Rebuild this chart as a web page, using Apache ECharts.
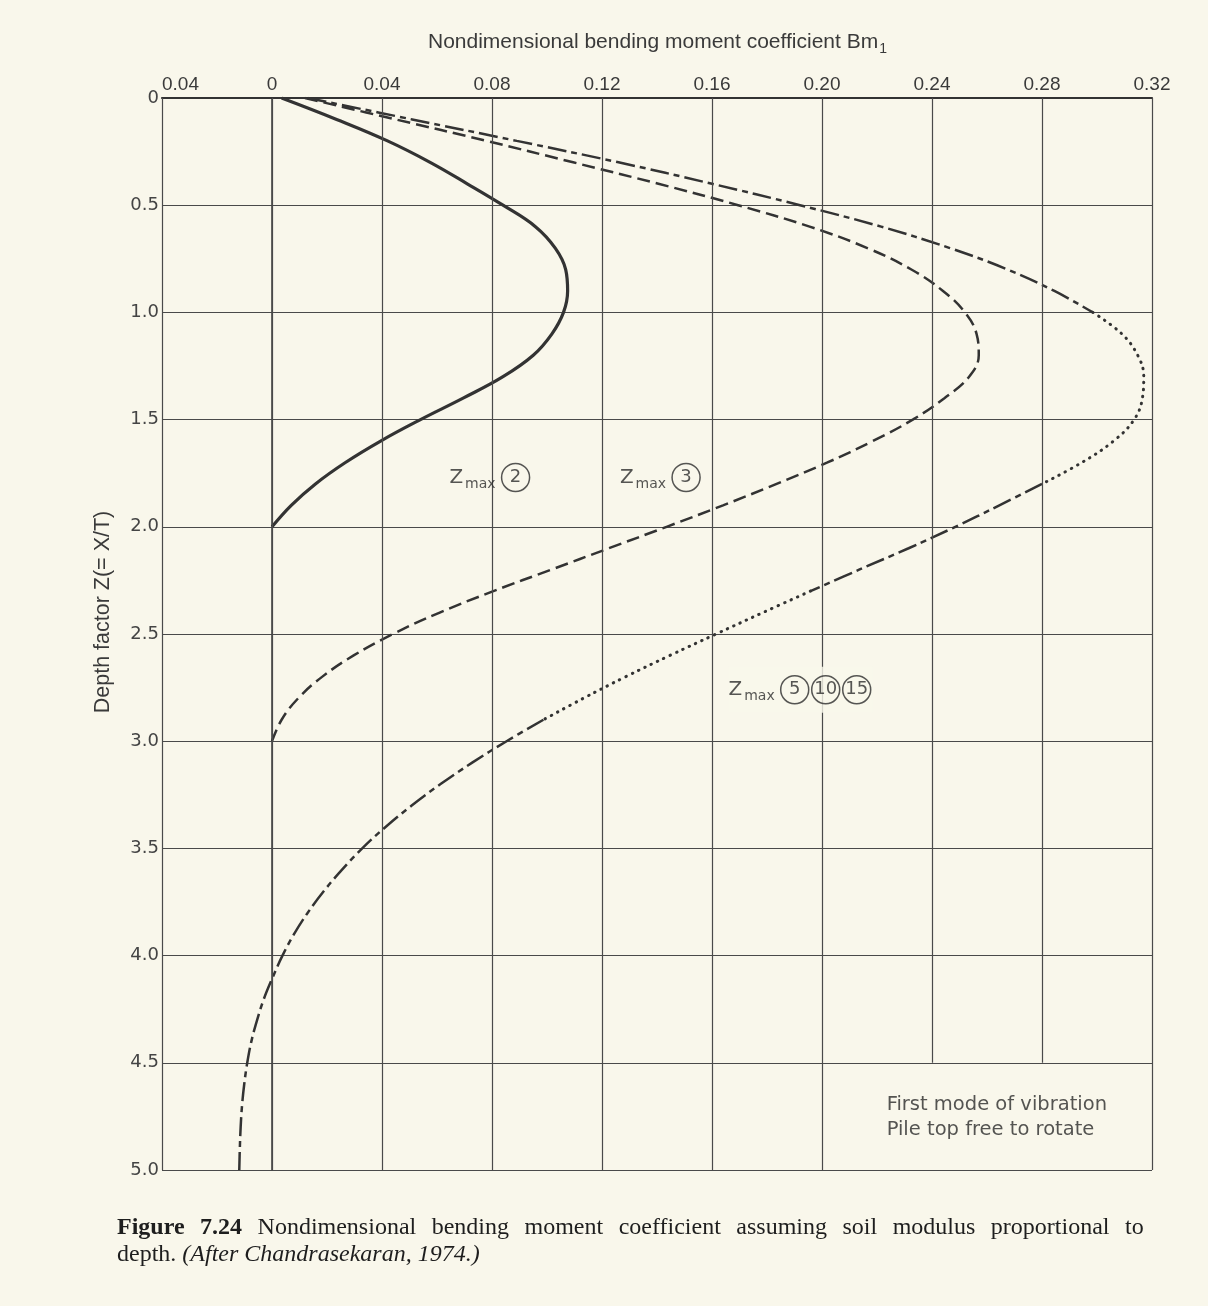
<!DOCTYPE html>
<html><head><meta charset="utf-8">
<script src="https://cdn.jsdelivr.net/npm/echarts@6/dist/echarts.min.js"></script>
<style>html,body{margin:0;padding:0;background:#f9f7eb;}#c{width:1208px;height:1306px;}</style>
</head><body><div id="c"></div>
<script>
// ---- data ----
const depthS2 = [0,0.1,0.2,0.3,0.4,0.5,0.6,0.7,0.8,0.9,1.0,1.1,1.2,1.3,1.4,1.5,1.6,1.7,1.8,1.9,2.0];
const bmS2    = [0.0035,0.0235,0.042,0.0575,0.071,0.084,0.0958,0.103,0.1068,0.1075,0.106,0.1018,0.095,0.084,0.0695,0.054,0.0395,0.0267,0.0158,0.007,0];

const depthS3 = [0,0.1,0.2,0.3,0.4,0.5,0.6,0.7,0.8,0.9,1.0,1.1,1.2,1.3,1.4,1.5,1.6,1.7,1.8,1.9,2.0,2.1,2.2,2.3,2.4,2.5,2.6,2.7,2.8,2.9,3.0];
const bmS3    = [0.012,0.045,0.078,0.1095,0.1405,0.1695,0.1955,0.2165,0.2325,0.244,0.252,0.2562,0.257,0.2535,0.2445,0.233,0.2185,0.202,0.1835,0.164,0.1435,0.1225,0.1015,0.0805,0.061,0.044,0.0297,0.0182,0.0095,0.0035,0];

const depthS5 = [0,0.1,0.2,0.3,0.4,0.5,0.6,0.7,0.8,0.9,1.0,1.1,1.2,1.3,1.4,1.5,1.6,1.7,1.8,1.9,2.0,2.1,2.2,2.3,2.4,2.5,2.6,2.7,2.8,2.9,3.0,3.1,3.2,3.3,3.4,3.5,3.6,3.7,3.8,3.9,4.0,4.1,4.2,4.3,4.4,4.5,4.6,4.7,4.8,4.9,5.0];
const bmS5    = [0.013,0.051,0.089,0.126,0.160,0.192,0.2215,0.2465,0.2675,0.2845,0.2985,0.309,0.3148,0.317,0.3165,0.3135,0.306,0.2945,0.28,0.2645,0.2485,0.2315,0.2135,0.1958,0.1785,0.1615,0.1447,0.1285,0.1132,0.0987,0.0853,0.0728,0.0613,0.0508,0.0413,0.0328,0.0254,0.0188,0.013,0.008,0.0038,0.0003,-0.0029,-0.0054,-0.0075,-0.009,-0.0101,-0.0109,-0.0114,-0.0117,-0.0119];
// depth breakpoints where the Zmax 5/10/15 curve switches between dash-dot and dotted
const s5Breaks = [0,1.0,1.8,2.3,2.9,5.0];

const xTicks      = [-0.04,0,0.04,0.08,0.12,0.16,0.20,0.24,0.28,0.32];
const xTickLabels = ['0.04','0','0.04','0.08','0.12','0.16','0.20','0.24','0.28','0.32'];
const xTickEndDepth = [5,5,5,5,5,5,5,4.5,4.5,5];
const yTickLabels = ['0','0.5','1.0','1.5','2.0','2.5','3.0','3.5','4.0','4.5','5.0'];

const labelZ2   = [0.0645,1.77];
const labelZ3   = [0.1265,1.77];
const labelZ5   = [0.166,2.76];
const noteAnchor= [0.2235,4.755];

const captionLine1 = ['Figure','7.24','Nondimensional','bending','moment','coefficient','assuming','soil','modulus','proportional','to'];

// ---- chart ----
const ink = '#333';
const paper = '#f9f7eb';
const sansW = "'DejaVu Sans', Verdana, sans-serif";
const sansN = "'Liberation Sans', Arial, sans-serif";
const serif = "'Liberation Serif', 'Times New Roman', serif";

function pairs(zs, vs){ return zs.map((z,i)=>[vs[i], z]); }
function segment(zs, vs, a, b){
  const out=[]; zs.forEach((z,i)=>{ if(z>=a-1e-9 && z<=b+1e-9) out.push([vs[i], z]); }); return out;
}
const lineBase = {type:'line', showSymbol:false, symbol:'none', smooth:0.4, silent:true, z:3};

const series = [];
series.push({
  type:'line', data:[], silent:true, z:1,
  markLine:{silent:true, symbol:['none','none'], label:{show:false},
    lineStyle:{color:'#4a4a4a', width:1.2, type:'solid'},
    data: xTicks.map((t,i)=>[{coord:[t,0]},{coord:[t,xTickEndDepth[i]]}])}
});
series.push(Object.assign({}, lineBase, {name:'Zmax 2', data:pairs(depthS2,bmS2),
  lineStyle:{color:ink, width:3.2}}));
series.push(Object.assign({}, lineBase, {name:'Zmax 3', data:pairs(depthS3,bmS3),
  lineStyle:{color:ink, width:2.5, type:[13,6]}}));
for(let k=0;k<s5Breaks.length-1;k++){
  const dotted = (k%2===1);
  series.push(Object.assign({}, lineBase, {name:'Zmax 5/10/15',
    data:segment(depthS5,bmS5,s5Breaks[k],s5Breaks[k+1]),
    lineStyle: dotted ? {color:ink, width:3, type:[0.5,6.5], cap:'round'}
                      : {color:ink, width:2.5, type:[19,5,6,5]}}));
}
const richZ = {
  z:{fontFamily:sansW, fontSize:20, color:'#2c2c2c'},
  m:{fontFamily:sansW, fontSize:14, color:'#2c2c2c', padding:[14,6,0,2]},
  c:{fontFamily:sansW, fontSize:18, color:'#2c2c2c', width:28, height:28, lineHeight:28, align:'center',
     borderColor:'#2c2c2c', borderWidth:1.5, borderRadius:15},
  g:{width:3}
};
series.push({
  type:'scatter', symbolSize:0, silent:true, z:5,
  data:[
    {value:labelZ2, label:{formatter:'{z|Z}{m|max}{c|2}'}},
    {value:labelZ3, label:{formatter:'{z|Z}{m|max}{c|3}'}},
    {value:labelZ5, label:{formatter:'{z|Z}{m|max}{c|5}{g| }{c|10}{g| }{c|15}',
       backgroundColor:paper, padding:[9,2,9,0]}},
    {value:noteAnchor, label:{formatter:'First mode of vibration\nPile top free to rotate',
       fontFamily:sansW, fontSize:19.5, lineHeight:25, color:'#2a2a2a'}}
  ],
  label:{show:true, position:'right', distance:0, rich:richZ}
});

const capRich = {
  b:{fontFamily:serif, fontSize:24, fontWeight:'bold', fill:'#1e1e1e', lineHeight:27},
  r:{fontFamily:serif, fontSize:24, fill:'#1e1e1e', lineHeight:27},
  i:{fontFamily:serif, fontSize:24, fontStyle:'italic', fill:'#1e1e1e', lineHeight:27},
  sp:{fontFamily:serif, fontSize:24, width:15.5, lineHeight:27}
};
const line1 = captionLine1.map((w,i)=> (i<2?'{b|':'{r|')+w+'}').join('{sp| }');

const chart = echarts.init(document.getElementById('c'), null, {renderer:'canvas'});
chart.setOption({
  backgroundColor: paper,
  animation:false,
  grid:{left:162, top:98, width:990, height:1072, containLabel:false},
  xAxis:{type:'value', position:'top', min:-0.04, max:0.32, interval:0.04,
    axisLine:{show:true, lineStyle:{color:'#333', width:2.2}},
    axisTick:{show:false}, splitLine:{show:false},
    axisLabel:{margin:4, color:'#3a3a3a', fontFamily:sansN, fontSize:19, alignMinLabel:'left',
      formatter:(v)=>{ let best=0; xTicks.forEach((t,i)=>{ if(Math.abs(t-v)<Math.abs(xTicks[best]-v)) best=i;}); return xTickLabels[best]; }}
  },
  yAxis:{type:'value', inverse:true, min:0, max:5, interval:0.5,
    axisLine:{show:true, lineStyle:{color:'#444', width:1.6}},
    axisTick:{show:false},
    splitLine:{show:true, lineStyle:{color:'#4a4a4a', width:1.2}},
    axisLabel:{margin:3, color:'#444', fontFamily:sansW, fontSize:18,
      formatter:(v)=> yTickLabels[Math.round(v/0.5)]}
  },
  graphic:[
    {type:'text', left:428, top:32, silent:true, style:{
      text:'{t|Nondimensional bending moment coefficient Bm}{s|1}',
      rich:{t:{fontFamily:sansN, fontSize:21, fill:'#3a3a3a'}, s:{fontFamily:sansN, fontSize:14, fill:'#3a3a3a', padding:[14,0,0,1]}}}},
    {type:'text', x:103, y:612, rotation:Math.PI/2, silent:true, style:{
      text:'Depth factor Z(= X/T)', fontFamily:sansN, fontSize:21.5, fill:'#3a3a3a', align:'center', verticalAlign:'middle'}},
    {type:'text', left:117, top:1216, silent:true, style:{
      text: line1 + '\n{r|depth. }{i|(After Chandrasekaran, 1974.)}',
      rich: capRich}}
  ],
  series: series
});
</script></body></html>
